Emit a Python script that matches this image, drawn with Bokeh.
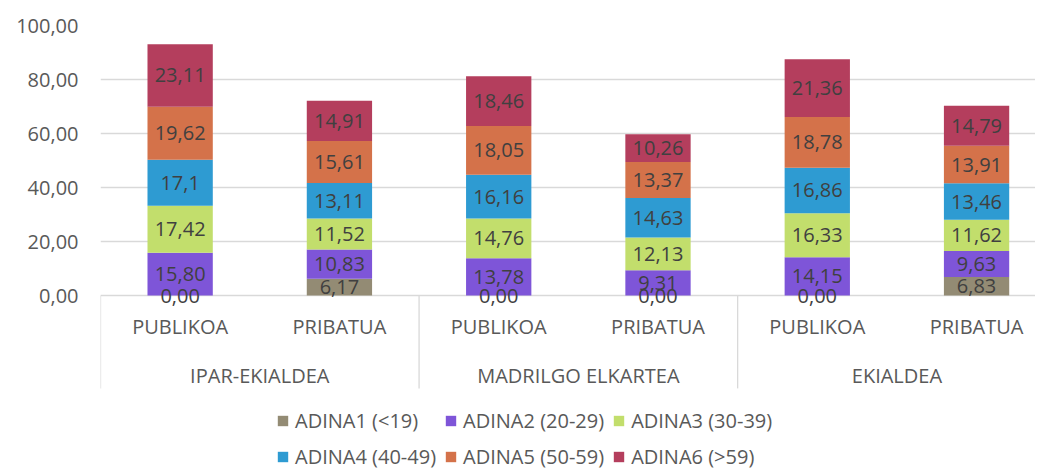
from bokeh.plotting import figure
from bokeh.models import (Range1d, FixedTicker, CustomJSTickFormatter, ColumnDataSource,
                          Legend, LegendItem)
from bokeh.core.properties import value
from bokeh.embed import file_html
from bokeh.resources import INLINE

regions = ["IPAR-EKIALDEA", "MADRILGO ELKARTEA", "EKIALDEA"]
sectors = ["PUBLIKOA", "PRIBATUA"]
series_names = ["ADINA1 (<19)", "ADINA2 (20-29)", "ADINA3 (30-39)",
                "ADINA4 (40-49)", "ADINA5 (50-59)", "ADINA6 (>59)"]
adina1 = [0.00, 6.17, 0.00, 0.00, 0.00, 6.83]
adina2 = [15.80, 10.83, 13.78, 9.31, 14.15, 9.63]
adina3 = [17.42, 11.52, 14.76, 12.13, 16.33, 11.62]
adina4 = [17.1, 13.11, 16.16, 14.63, 16.86, 13.46]
adina5 = [19.62, 15.61, 18.05, 13.37, 18.78, 13.91]
adina6 = [23.11, 14.91, 18.46, 10.26, 21.36, 14.79]
label_fixed = [True, True, False, False, False, False]
colors = ["#938B74", "#7E55D8", "#C2DE6C", "#2E9BD2", "#D4724A", "#B43E5D"]
y_ticks = [0, 20, 40, 60, 80, 100]

series = [adina1, adina2, adina3, adina4, adina5, adina6]
keys = ["a1", "a2", "a3", "a4", "a5", "a6"]
n = len(regions) * len(sectors)
xs = [i + 0.5 for i in range(n)]
sub_labels = [s for r in regions for s in sectors]
group_x = [len(sectors) * (g + 0.5) for g in range(len(regions))]
sep_x = [len(sectors) * g for g in range(len(regions) + 1)]

data = {"x": xs}
for k, s in zip(keys, series):
    data[k] = s
src = ColumnDataSource(data)

FONT = "Open Sans"
FS = "20px"
p = figure(width=1035, height=468, x_range=Range1d(0, 5.87), y_range=Range1d(-64.07, 100),
           min_border_left=100, min_border_top=25, min_border_right=0, min_border_bottom=0,
           x_axis_location=None, outline_line_color=None, toolbar_location=None,
           output_backend="svg")

renderers = p.vbar_stack(keys, x="x", width=0.41, fill_color=colors, line_color=None, source=src)

# data labels
bottom = [0.0] * n
for s, fixed in zip(series, label_fixed):
    mids = [b + v / 2 for b, v in zip(bottom, s)]
    if fixed:
        txt = [f"{v:.2f}".replace(".", ",") for v in s]
    else:
        txt = [f"{v:g}".replace(".", ",") for v in s]
    p.text(x=xs, y=mids, text=txt, text_align="center", text_baseline="middle",
           text_font=value(FONT), text_font_size=FS, text_color="#404040")
    bottom = [b + v for b, v in zip(bottom, s)]

# category axis
p.segment(x0=sep_x, y0=[0] * len(sep_x), x1=sep_x, y1=[-34.4] * len(sep_x),
          line_color="#D9D9D9", line_width=1.3)
p.text(x=xs, y=[-11.6] * n, text=sub_labels, text_align="center", text_baseline="middle",
       text_font=value(FONT), text_font_size=FS, text_color="#595959")
p.text(x=group_x, y=[-29.7] * len(group_x), text=regions, text_align="center",
       text_baseline="middle", text_font=value(FONT), text_font_size=FS,
       text_color="#595959")

p.yaxis.ticker = FixedTicker(ticks=y_ticks)
p.yaxis.formatter = CustomJSTickFormatter(code="return tick.toFixed(2).replace('.', ',');")
p.yaxis.axis_line_color = None
p.yaxis.major_tick_line_color = None
p.yaxis.minor_tick_line_color = None
p.yaxis.major_tick_out = 0
p.yaxis.major_label_standoff = 22
p.yaxis.major_label_text_font = FONT
p.yaxis.major_label_text_font_size = FS
p.yaxis.major_label_text_color = "#595959"
p.xgrid.visible = False
p.ygrid.ticker = FixedTicker(ticks=y_ticks)
p.ygrid.grid_line_color = "#D9D9D9"
p.ygrid.grid_line_width = 1.3

items = [LegendItem(label=nm, renderers=[r]) for nm, r in zip(series_names, renderers)]
ordered = [items[i] for i in (0, 3, 1, 4, 2, 5)]  # row-major display in column-filled grid
legend = Legend(items=ordered, ncols=3, location=(176, -2), glyph_width=13, glyph_height=13,
                label_standoff=6, label_text_font=FONT, label_text_font_size=FS,
                label_text_color="#595959", label_height=28, spacing=8, padding=0, margin=0,
                background_fill_alpha=0, border_line_color=None)
p.add_layout(legend)

open("out.html", "w").write(file_html(p, INLINE))
